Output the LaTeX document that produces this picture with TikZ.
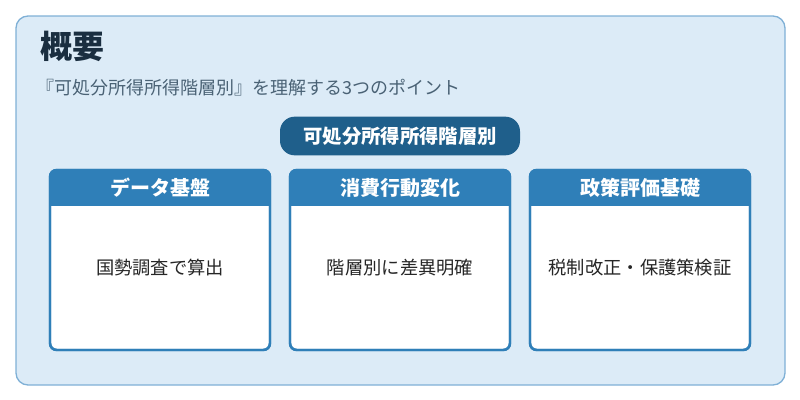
\documentclass[tikz,border=0pt]{standalone}
\usepackage{fontspec}
\setmainfont{Noto Sans CJK JP}
\usetikzlibrary{positioning}
\definecolor{bgblue}{HTML}{DCEBF7}
\definecolor{frameblue}{HTML}{7FB0D6}
\definecolor{pillblue}{HTML}{1F5F8B}
\definecolor{cardblue}{HTML}{2F7FB8}
\definecolor{titleink}{HTML}{1A2E40}
\definecolor{subink}{HTML}{4A6275}
\begin{document}
\begin{tikzpicture}[x=0.75pt,y=-0.75pt,
    card/.style={draw=cardblue, line width=1.8pt, fill=white, rounded corners=5pt},
    cardhead/.style={text=white, font=\fontsize{15}{18}\selectfont\bfseries},
    cardtext/.style={text=black!85, font=\fontsize{13.7}{16}\selectfont},
  ]
  \useasboundingbox (0,0) rectangle (800,400);
  \draw[fill=bgblue, draw=frameblue, line width=1pt, rounded corners=9pt] (16,16) rectangle (785,385);

  \node[anchor=west, inner sep=0pt, text=titleink, font=\fontsize{24}{28}\selectfont\bfseries] (title) at (40,46) {概要};
  \node[anchor=west, inner sep=0pt, text=subink, font=\fontsize{13.5}{16}\selectfont] (sub) at (36,88) {『可処分所得所得階層別』を理解する3つのポイント};

  \node[fill=pillblue, text=white, rounded corners=11pt, minimum width=180pt, minimum height=29pt,
        font=\fontsize{14.5}{17}\selectfont\bfseries] (pill) at (400,136) {可処分所得所得階層別};

  \foreach \x/\head/\body/\nm in {50/データ基盤/国勢調査で算出/data,
                                   290/消費行動変化/階層別に差異明確/cons,
                                   530/政策評価基礎/税制改正・保護策検証/pol}{
    \draw[card] (\x,170) rectangle (\x+220,350);
    \begin{scope}
      \clip[rounded corners=5pt] (\x,170) rectangle (\x+220,350);
      \fill[cardblue] (\x,170) rectangle (\x+220,206);
    \end{scope}
    \draw[cardblue, line width=1.8pt, rounded corners=5pt] (\x,170) rectangle (\x+220,350);
    \node[cardhead] (\nm head) at (\x+110,188) {\head};
    \node[cardtext] (\nm body) at (\x+110,268) {\body};
  }
\end{tikzpicture}
\end{document}
